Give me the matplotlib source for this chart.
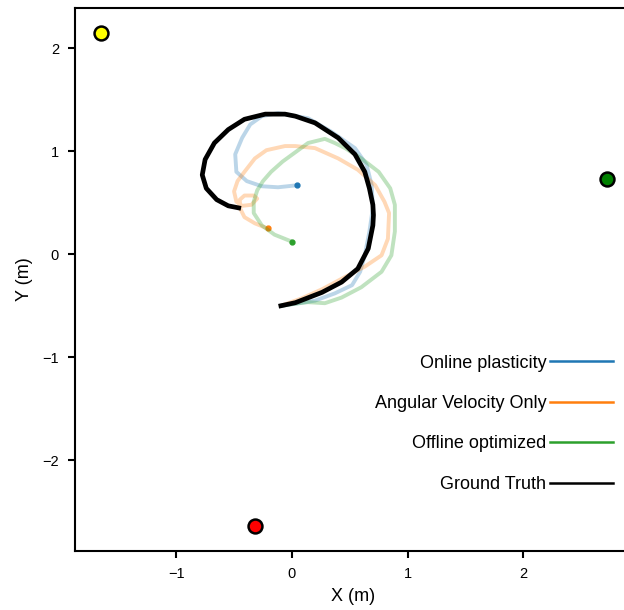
import numpy as np
import matplotlib
matplotlib.use("Agg")
from matplotlib import pyplot as plt

plt.rcParams['font.family'] = ['Liberation Sans', 'DejaVu Sans']

# landmark positions (m)
landmark_x = [-1.65, 2.72, -0.32]
landmark_y = [2.15, 0.73, -2.64]
landmark_colors = ['yellow', 'green', 'red']

# trajectories (m), all starting near (-0.1, -0.5)
gt_x = [-0.095, 0.03, 0.26, 0.43, 0.57, 0.66, 0.70, 0.705, 0.70, 0.67, 0.63, 0.545,
        0.40, 0.20, 0.03, -0.06, -0.23, -0.41, -0.55, -0.67, -0.75, -0.775, -0.74,
        -0.65, -0.55, -0.46]
gt_y = [-0.50, -0.47, -0.37, -0.27, -0.14, 0.055, 0.28, 0.38, 0.48, 0.64, 0.80, 0.97,
        1.13, 1.275, 1.34, 1.36, 1.36, 1.31, 1.21, 1.08, 0.92, 0.77, 0.64,
        0.53, 0.47, 0.45]

online_x = [-0.095, 0.03, 0.20, 0.37, 0.52, 0.59, 0.63, 0.67, 0.70, 0.69, 0.645, 0.545,
            0.34, 0.14, -0.12, -0.26, -0.36, -0.43, -0.49, -0.48, -0.39, -0.26,
            -0.12, 0.046]
online_y = [-0.50, -0.48, -0.45, -0.38, -0.30, -0.17, -0.01, 0.22, 0.45, 0.67, 0.87, 1.03,
            1.19, 1.32, 1.37, 1.34, 1.26, 1.13, 0.97, 0.80, 0.71, 0.66,
            0.65, 0.67]

angular_x = [-0.095, 0.08, 0.26, 0.46, 0.63, 0.775, 0.83, 0.84, 0.80, 0.72,
             0.57, 0.40, 0.20, 0.03, -0.06, -0.22, -0.32, -0.41, -0.47, -0.50,
             -0.48, -0.43, -0.35, -0.30, -0.33, -0.41, -0.45, -0.45, -0.41,
             -0.32, -0.21]
angular_y = [-0.50, -0.43, -0.34, -0.22, -0.12, -0.01, 0.15, 0.40, 0.51, 0.67,
             0.82, 0.93, 1.03, 1.05, 1.05, 1.01, 0.93, 0.80, 0.71, 0.61,
             0.51, 0.47, 0.48, 0.54, 0.57, 0.57, 0.53, 0.45, 0.36,
             0.30, 0.25]

offline_x = [-0.095, 0.03, 0.14, 0.285, 0.43, 0.60, 0.775, 0.86, 0.89, 0.89, 0.89,
             0.85, 0.75, 0.60, 0.46, 0.37, 0.285, 0.14, 0.03, -0.08, -0.18,
             -0.25, -0.30, -0.33, -0.33, -0.26, -0.15, 0.005]
offline_y = [-0.50, -0.48, -0.465, -0.475, -0.42, -0.32, -0.17, -0.01, 0.22, 0.41, 0.48,
             0.64, 0.80, 0.93, 1.03, 1.08, 1.12, 1.08, 0.99, 0.90, 0.80,
             0.71, 0.62, 0.51, 0.40, 0.28, 0.19, 0.12]

series = [
    ('Online plasticity', online_x, online_y, '#1f77b4'),
    ('Angular Velocity Only', angular_x, angular_y, '#ff7f0e'),
    ('Offline optimized', offline_x, offline_y, '#2ca02c'),
]

fig = plt.figure(figsize=(6.24, 6.10), dpi=100)
ax = fig.add_axes([75 / 624, 59 / 610, 557 / 624, 543 / 610])

for label, xs, ys, c in series:
    ax.plot(xs, ys, color=c, lw=2.8, alpha=0.3, solid_capstyle='round',
            solid_joinstyle='round')
    ax.plot(xs[-1], ys[-1], 'o', color=c, ms=3.5)
    ax.plot([], [], color=c, lw=1.8, label=label)

ax.plot(gt_x, gt_y, color='black', lw=3.4, solid_joinstyle='round')
ax.plot([], [], color='black', lw=1.8, label='Ground Truth')

for lx, ly, lc in zip(landmark_x, landmark_y, landmark_colors):
    ax.plot(lx, ly, 'o', color=lc, ms=10, mec='black', mew=1.8)

ax.set_xlim(-1.875, 2.94)
ax.set_ylim(-2.88, 2.39)
ax.set_xticks([-1, 0, 1, 2])
ax.set_yticks([-2, -1, 0, 1, 2])
ax.tick_params(labelsize=10.5, width=1.5, length=5, pad=6.5)
for s in ax.spines.values():
    s.set_linewidth(1.5)
ax.spines['right'].set_visible(False)
ax.set_xlabel('X (m)', fontsize=13, labelpad=5)
ax.set_ylabel('Y (m)', fontsize=13, labelpad=7)

ax.legend(loc='lower right', bbox_to_anchor=(0.995, 0.077), frameon=False,
          markerfirst=False, fontsize=13, handlelength=3.5, labelspacing=1.3,
          handletextpad=0.2)

fig.savefig('out.png', dpi=100)
